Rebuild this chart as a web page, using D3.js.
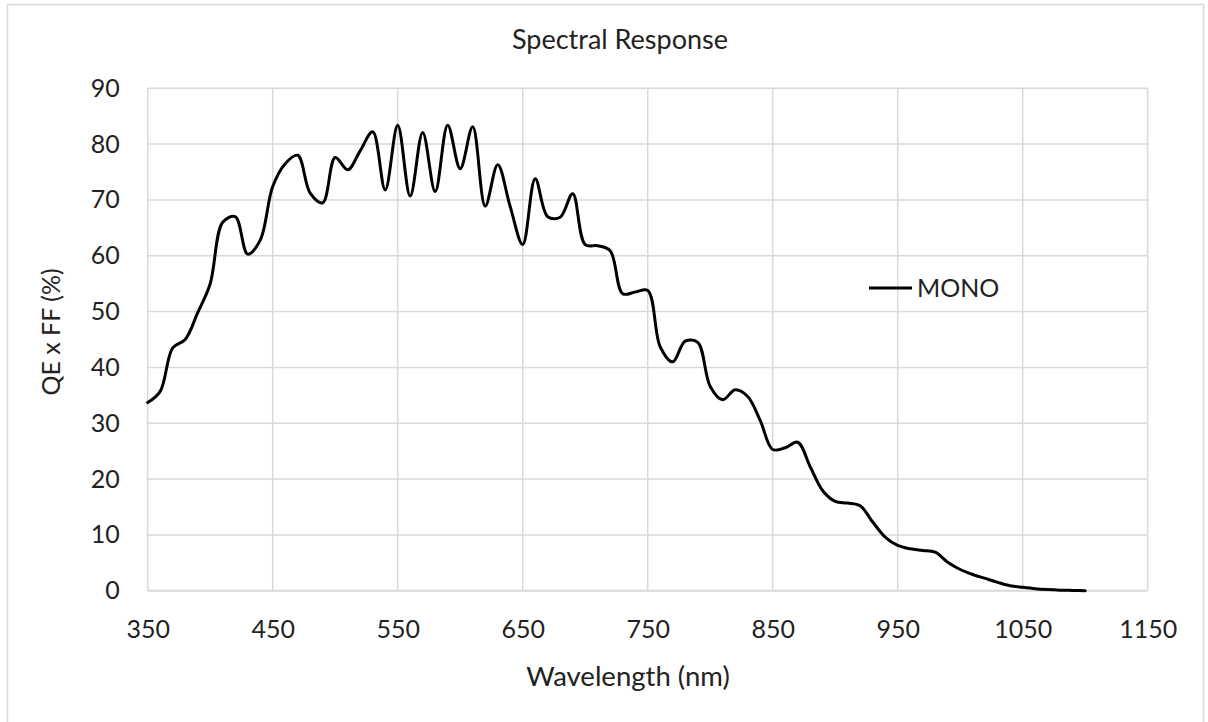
<!DOCTYPE html>
<html>
<head>
<meta charset="utf-8">
<script src="https://cdn.jsdelivr.net/npm/d3@7"></script>
<style>
  html, body { margin: 0; padding: 0; background: #fff; }
  svg { display: block; font-family: Lato, "Open Sans", sans-serif; }
</style>
</head>
<body>
<div id="chart"></div>
<script>
// wavelength (nm) sampled from the reference curve
const wavelengths = [
  350, 360, 370, 380, 390, 400, 410, 420, 430, 440,
  450, 460, 470, 480, 490, 500, 510, 520, 530, 540,
  550, 560, 570, 580, 590, 600, 610, 620, 630, 640,
  650, 660, 670, 680, 690, 700, 710, 720, 730, 740,
  750, 760, 770, 780, 790, 800, 810, 820, 830, 840,
  850, 860, 870, 880, 890, 900, 910, 920, 930, 940,
  950, 960, 970, 980, 990, 1000, 1010, 1020, 1030, 1040,
  1050, 1060, 1070, 1080, 1090, 1100
];
// QE x FF (%) for MONO
const monoValues = [
  33.7, 35.7, 43.5, 45.0, 49.8, 55.0, 66.0, 67.0, 60.3, 62.8,
  72.4, 76.5, 78.0, 71.2, 69.5, 77.6, 75.4, 78.8, 82.2, 71.8,
  83.4, 70.7, 82.1, 71.5, 83.4, 75.6, 83.1, 68.9, 76.3, 68.8,
  62.0, 73.8, 67.0, 66.9, 71.1, 62.0, 61.8, 60.9, 53.2, 53.5,
  53.8, 43.7, 41.0, 44.7, 44.5, 36.6, 34.2, 36.0, 34.8, 30.5,
  25.3, 25.6, 26.6, 22.2, 17.9, 16.0, 15.7, 15.2, 12.3, 9.6,
  8.1, 7.5, 7.2, 6.9, 5.1, 3.8, 2.9, 2.2, 1.5, 0.9,
  0.6, 0.35, 0.2, 0.1, 0.05, 0
];
const xTicks = [350, 450, 550, 650, 750, 850, 950, 1050, 1150];
const yTicks = [0, 10, 20, 30, 40, 50, 60, 70, 80, 90];
const seriesName = "MONO";

const W = 1208, H = 722;
const margin = {top: 88.3, right: 60, bottom: 131.3, left: 147.7};
const innerW = 1147.7 - margin.left;
const innerH = 590.7 - margin.top;

const svg = d3.select("#chart").append("svg")
  .attr("width", W).attr("height", H);

// chart border
svg.append("rect")
  .attr("x", 7.5).attr("y", 4.5)
  .attr("width", 1196).attr("height", 740)
  .attr("fill", "none").attr("stroke", "#d9d9d9").attr("stroke-width", 1.5);

const x = d3.scaleLinear().domain([350, 1150]).range([0, innerW]);
const y = d3.scaleLinear().domain([0, 90]).range([innerH, 0]);

const g = svg.append("g").attr("transform", `translate(${margin.left},${margin.top})`);

// grid
g.append("g").selectAll("line.h").data(yTicks).enter().append("line")
  .attr("x1", 0).attr("x2", innerW)
  .attr("y1", d => y(d)).attr("y2", d => y(d))
  .attr("stroke", "#d9d9d9").attr("stroke-width", d => d === 0 ? 2 : 1.5);

g.append("g").selectAll("line.v").data(xTicks).enter().append("line")
  .attr("y1", 0).attr("y2", innerH)
  .attr("x1", d => x(d)).attr("x2", d => x(d))
  .attr("stroke", "#d9d9d9").attr("stroke-width", 1.5);

// axes (labels only)
const xAxis = g.append("g").attr("transform", `translate(0,${innerH})`)
  .call(d3.axisBottom(x).tickValues(xTicks).tickSize(0).tickPadding(30).tickFormat(d3.format("d")));
xAxis.select(".domain").remove();
xAxis.selectAll("text").attr("font-size", 25).attr("fill", "#222").attr("font-family", "Lato, sans-serif");

const yAxis = g.append("g")
  .call(d3.axisLeft(y).tickValues(yTicks).tickSize(0).tickPadding(28).tickFormat(d3.format("d")));
yAxis.select(".domain").remove();
yAxis.selectAll("text").attr("font-size", 25).attr("fill", "#222").attr("font-family", "Lato, sans-serif");

// curve
const pts = wavelengths.map((w, i) => ({w, v: monoValues[i]}));
const line = d3.line()
  .x(d => x(d.w)).y(d => y(d.v))
  .curve(d3.curveCatmullRom.alpha(0.5));

g.append("path").datum(pts)
  .attr("d", line)
  .attr("fill", "none").attr("stroke", "#000").attr("stroke-width", 3)
  .attr("stroke-linejoin", "round").attr("stroke-linecap", "round");

// title
svg.append("text")
  .attr("x", 620).attr("y", 49)
  .attr("text-anchor", "middle")
  .attr("font-size", 27).attr("fill", "#222")
  .text("Spectral Response");

// axis titles
svg.append("text")
  .attr("x", 628).attr("y", 686)
  .attr("text-anchor", "middle")
  .attr("font-size", 27.5).attr("fill", "#222")
  .text("Wavelength (nm)");

svg.append("text")
  .attr("transform", "translate(60,332) rotate(-90)")
  .attr("text-anchor", "middle")
  .attr("font-size", 25).attr("fill", "#222")
  .text("QE x FF (%)");

// legend
const lg = svg.append("g").attr("transform", "translate(869,288)");
lg.append("line").attr("x1", 0).attr("x2", 43).attr("y1", 0).attr("y2", 0)
  .attr("stroke", "#000").attr("stroke-width", 3);
lg.append("text").attr("x", 48).attr("y", 0).attr("dy", "0.35em")
  .attr("font-size", 25).attr("fill", "#222")
  .text(seriesName);
</script>
</body>
</html>
